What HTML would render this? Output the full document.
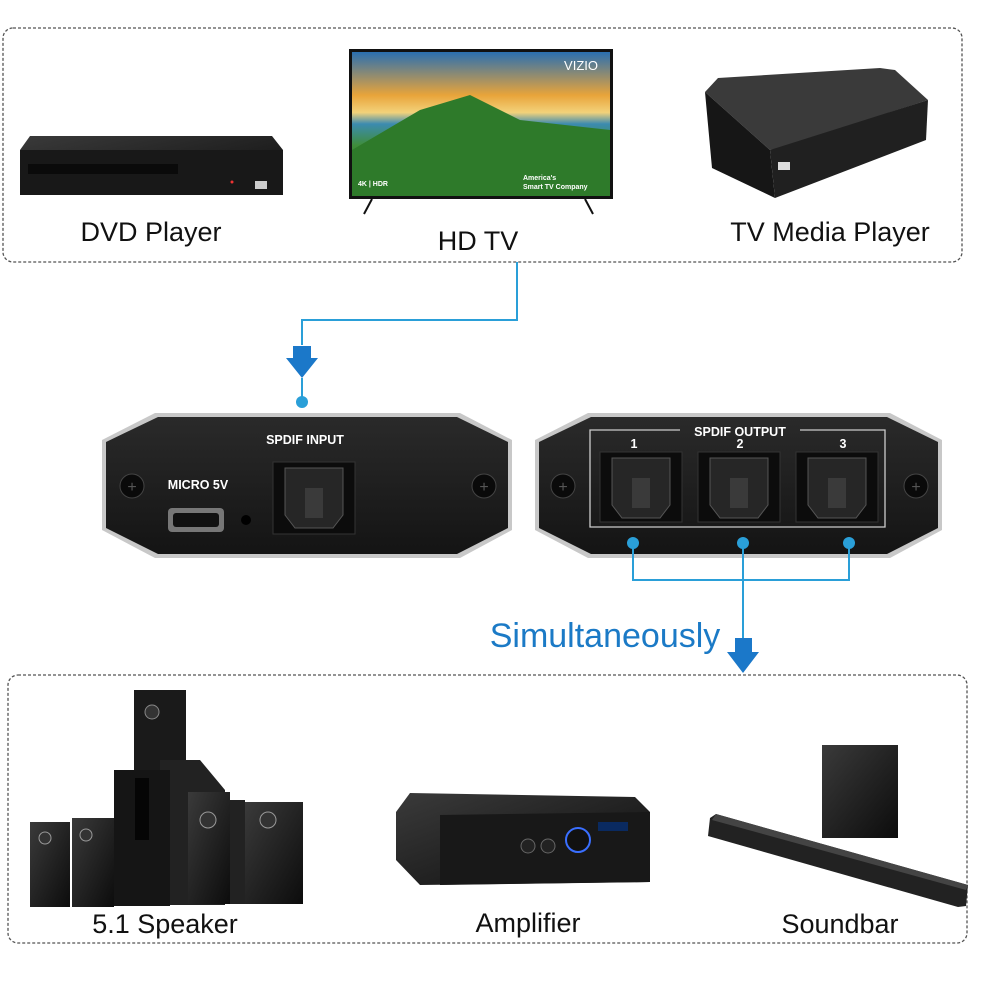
<!DOCTYPE html>
<html><head><meta charset="utf-8"><style>
html,body{margin:0;padding:0;background:#fff;}
svg{display:block}
text{font-family:"Liberation Sans",sans-serif}
</style></head><body>
<svg width="1000" height="1000" viewBox="0 0 1000 1000" xmlns="http://www.w3.org/2000/svg">
<defs>
<linearGradient id="sky" x1="0" y1="0" x2="0" y2="1">
<stop offset="0" stop-color="#2a6fb0"/><stop offset="0.3" stop-color="#e8a43a"/><stop offset="0.42" stop-color="#f3d27a"/><stop offset="0.5" stop-color="#3c8bb0"/><stop offset="0.65" stop-color="#3f8d3a"/><stop offset="1" stop-color="#1f5a20"/>
</linearGradient>
<linearGradient id="dev" x1="0" y1="0" x2="0" y2="1"><stop offset="0" stop-color="#2a2a2a"/><stop offset="1" stop-color="#141414"/></linearGradient>
<linearGradient id="blk" x1="0" y1="0" x2="1" y2="1"><stop offset="0" stop-color="#3a3a3a"/><stop offset="1" stop-color="#0c0c0c"/></linearGradient>
</defs>
<rect x="3" y="28" width="959" height="234" rx="10" fill="none" stroke="#555" stroke-width="1.3" stroke-dasharray="3,2"/>
<!-- DVD -->
<polygon points="30,136 272,136 283,150 283,195 20,195 20,150" fill="url(#blk)"/>
<rect x="20" y="150" width="263" height="45" fill="#181818"/>
<rect x="28" y="164" width="150" height="10" fill="#0a0a0a"/>
<rect x="255" y="181" width="12" height="8" fill="#ccc"/>
<circle cx="232" cy="182" r="1.5" fill="#e33"/>
<text x="151" y="241" font-size="27" text-anchor="middle" fill="#111">DVD Player</text>
<!-- TV -->
<rect x="349" y="49" width="264" height="150" fill="#111"/>
<rect x="352" y="52" width="258" height="144" fill="url(#sky)"/>
<polygon points="352,150 420,110 470,95 520,120 610,130 610,196 352,196" fill="#2e7a2a"/>
<text x="598" y="70" font-size="13" fill="#fff" text-anchor="end">VIZIO</text>
<text x="358" y="186" font-size="7" fill="#fff" font-weight="bold">4K  |  HDR</text>
<text x="523" y="180" font-size="7" fill="#fff" font-weight="bold">America's</text>
<text x="523" y="189" font-size="7" fill="#fff" font-weight="bold">Smart TV Company</text>
<line x1="372" y1="199" x2="364" y2="214" stroke="#111" stroke-width="2"/>
<line x1="585" y1="199" x2="593" y2="214" stroke="#111" stroke-width="2"/>
<text x="478" y="250" font-size="27" text-anchor="middle" fill="#111">HD TV</text>
<!-- Media player -->
<polygon points="705,92 718,78 880,68 895,70 928,100 780,148 770,150" fill="#3a3a3a"/>
<polygon points="705,92 770,150 775,198 712,168" fill="#161616"/>
<polygon points="770,150 928,100 926,140 775,198" fill="#202020"/>
<rect x="778" y="162" width="12" height="8" fill="#ddd"/>
<text x="830" y="241" font-size="27" text-anchor="middle" fill="#111">TV Media Player</text>
<!-- connector top -->
<polyline points="517,262 517,320 302,320 302,345" fill="none" stroke="#2a9fd8" stroke-width="2"/>
<polygon points="293,346 311,346 311,358 318,358 302,378 286,358 293,358" fill="#1b78c9"/>
<line x1="302" y1="378" x2="302" y2="402" stroke="#2a9fd8" stroke-width="2"/>
<circle cx="302" cy="402" r="6" fill="#2a9fd8"/>
<!-- left device -->
<polygon points="155,413 460,413 512,440 512,530 460,558 155,558 102,530 102,440" fill="#c8c8c8"/>
<polygon points="158,417 457,417 508,442 508,528 457,554 158,554 106,528 106,442" fill="url(#dev)"/>
<text x="305" y="444" font-size="12.5" fill="#fff" font-weight="bold" text-anchor="middle">SPDIF INPUT</text>
<text x="198" y="489" font-size="12.5" fill="#fff" font-weight="bold" text-anchor="middle">MICRO 5V</text>
<circle cx="132" cy="486" r="12" fill="#0a0a0a" stroke="#444"/><text x="132" y="492" font-size="16" fill="#555" text-anchor="middle">+</text>
<circle cx="484" cy="486" r="12" fill="#0a0a0a" stroke="#444"/><text x="484" y="492" font-size="16" fill="#555" text-anchor="middle">+</text>
<rect x="168" y="508" width="56" height="24" rx="4" fill="#777"/><rect x="173" y="513" width="46" height="14" rx="3" fill="#111"/>
<circle cx="246" cy="520" r="5" fill="#000"/>
<rect x="273" y="462" width="82" height="72" fill="#0c0c0c" stroke="#333"/>
<path d="M285,468 L343,468 L343,515 L333,528 L295,528 L285,515 Z" fill="#262626" stroke="#555"/>
<rect x="305" y="488" width="18" height="30" fill="#3a3a3a"/>
<!-- right device -->
<polygon points="588,413 890,413 942,440 942,530 890,558 588,558 535,530 535,440" fill="#c8c8c8"/>
<polygon points="591,417 887,417 938,442 938,528 887,554 591,554 539,528 539,442" fill="url(#dev)"/>
<polyline points="680,430 590,430 590,527 885,527 885,430 800,430" fill="none" stroke="#ccc" stroke-width="1.3"/>
<text x="740" y="436" font-size="12.5" fill="#fff" font-weight="bold" text-anchor="middle">SPDIF OUTPUT</text>
<text x="634" y="448" font-size="12.5" fill="#fff" font-weight="bold" text-anchor="middle">1</text>
<text x="740" y="448" font-size="12.5" fill="#fff" font-weight="bold" text-anchor="middle">2</text>
<text x="843" y="448" font-size="12.5" fill="#fff" font-weight="bold" text-anchor="middle">3</text>
<circle cx="563" cy="486" r="12" fill="#0a0a0a" stroke="#444"/><text x="563" y="492" font-size="16" fill="#555" text-anchor="middle">+</text>
<circle cx="916" cy="486" r="12" fill="#0a0a0a" stroke="#444"/><text x="916" y="492" font-size="16" fill="#555" text-anchor="middle">+</text>
<g fill="#0c0c0c" stroke="#333">
<rect x="600" y="452" width="82" height="70"/><rect x="698" y="452" width="82" height="70"/><rect x="796" y="452" width="82" height="70"/></g>
<g fill="#262626" stroke="#555">
<path d="M612,458 L670,458 L670,505 L660,518 L622,518 L612,505 Z"/>
<path d="M710,458 L768,458 L768,505 L758,518 L720,518 L710,505 Z"/>
<path d="M808,458 L866,458 L866,505 L856,518 L818,518 L808,505 Z"/></g>
<g fill="#3a3a3a"><rect x="632" y="478" width="18" height="30"/><rect x="730" y="478" width="18" height="30"/><rect x="828" y="478" width="18" height="30"/></g>
<!-- bottom connector -->
<g stroke="#2a9fd8" stroke-width="2" fill="none">
<polyline points="633,543 633,580 849,580 849,543"/><line x1="743" y1="543" x2="743" y2="640"/></g>
<circle cx="633" cy="543" r="6" fill="#2a9fd8"/><circle cx="743" cy="543" r="6" fill="#2a9fd8"/><circle cx="849" cy="543" r="6" fill="#2a9fd8"/>
<polygon points="735,638 752,638 752,652 759,652 743,673 727,652 735,652" fill="#1b78c9"/>
<text x="605" y="647" font-size="34" fill="#1b7ac6" text-anchor="middle">Simultaneously</text>
<!-- bottom box -->
<rect x="8" y="675" width="959" height="268" rx="10" fill="none" stroke="#555" stroke-width="1.3" stroke-dasharray="3,2"/>
<!-- speakers -->
<rect x="134" y="690" width="52" height="150" fill="#1a1a1a"/>
<circle cx="152" cy="712" r="7" fill="#333" stroke="#888"/>
<polygon points="160,760 200,760 225,790 225,905 160,905" fill="#222"/>
<rect x="114" y="770" width="56" height="136" fill="#151515"/>
<rect x="135" y="778" width="14" height="62" fill="#050505"/>
<rect x="30" y="822" width="40" height="85" fill="url(#blk)"/>
<rect x="72" y="818" width="42" height="89" fill="url(#blk)"/>
<rect x="188" y="792" width="42" height="112" fill="url(#blk)"/>
<rect x="230" y="800" width="15" height="104" fill="#222"/>
<rect x="245" y="802" width="58" height="102" fill="url(#blk)"/>
<g fill="#333" stroke="#999"><circle cx="45" cy="838" r="6"/><circle cx="86" cy="835" r="6"/><circle cx="208" cy="820" r="8"/><circle cx="268" cy="820" r="8"/></g>
<text x="165" y="933" font-size="27" text-anchor="middle" fill="#111">5.1 Speaker</text>
<!-- amplifier -->
<polygon points="410,793 635,797 650,812 650,882 420,885 396,860 396,812" fill="url(#blk)"/>
<polygon points="440,815 650,812 650,882 440,885" fill="#181818"/>
<circle cx="578" cy="840" r="12" fill="#111" stroke="#3a6fff" stroke-width="2"/>
<rect x="598" y="822" width="30" height="9" fill="#0a2a60"/>
<circle cx="528" cy="846" r="7" fill="#222" stroke="#666"/><circle cx="548" cy="846" r="7" fill="#222" stroke="#666"/>
<text x="528" y="932" font-size="27" text-anchor="middle" fill="#111">Amplifier</text>
<!-- soundbar -->
<rect x="822" y="745" width="76" height="93" fill="url(#blk)"/>
<polygon points="710,818 716,814 968,885 966,906 958,907 708,836" fill="#222"/>
<polygon points="716,814 968,885 966,890 712,820" fill="#444"/>
<text x="840" y="933" font-size="27" text-anchor="middle" fill="#111">Soundbar</text>
</svg>
</body></html>
